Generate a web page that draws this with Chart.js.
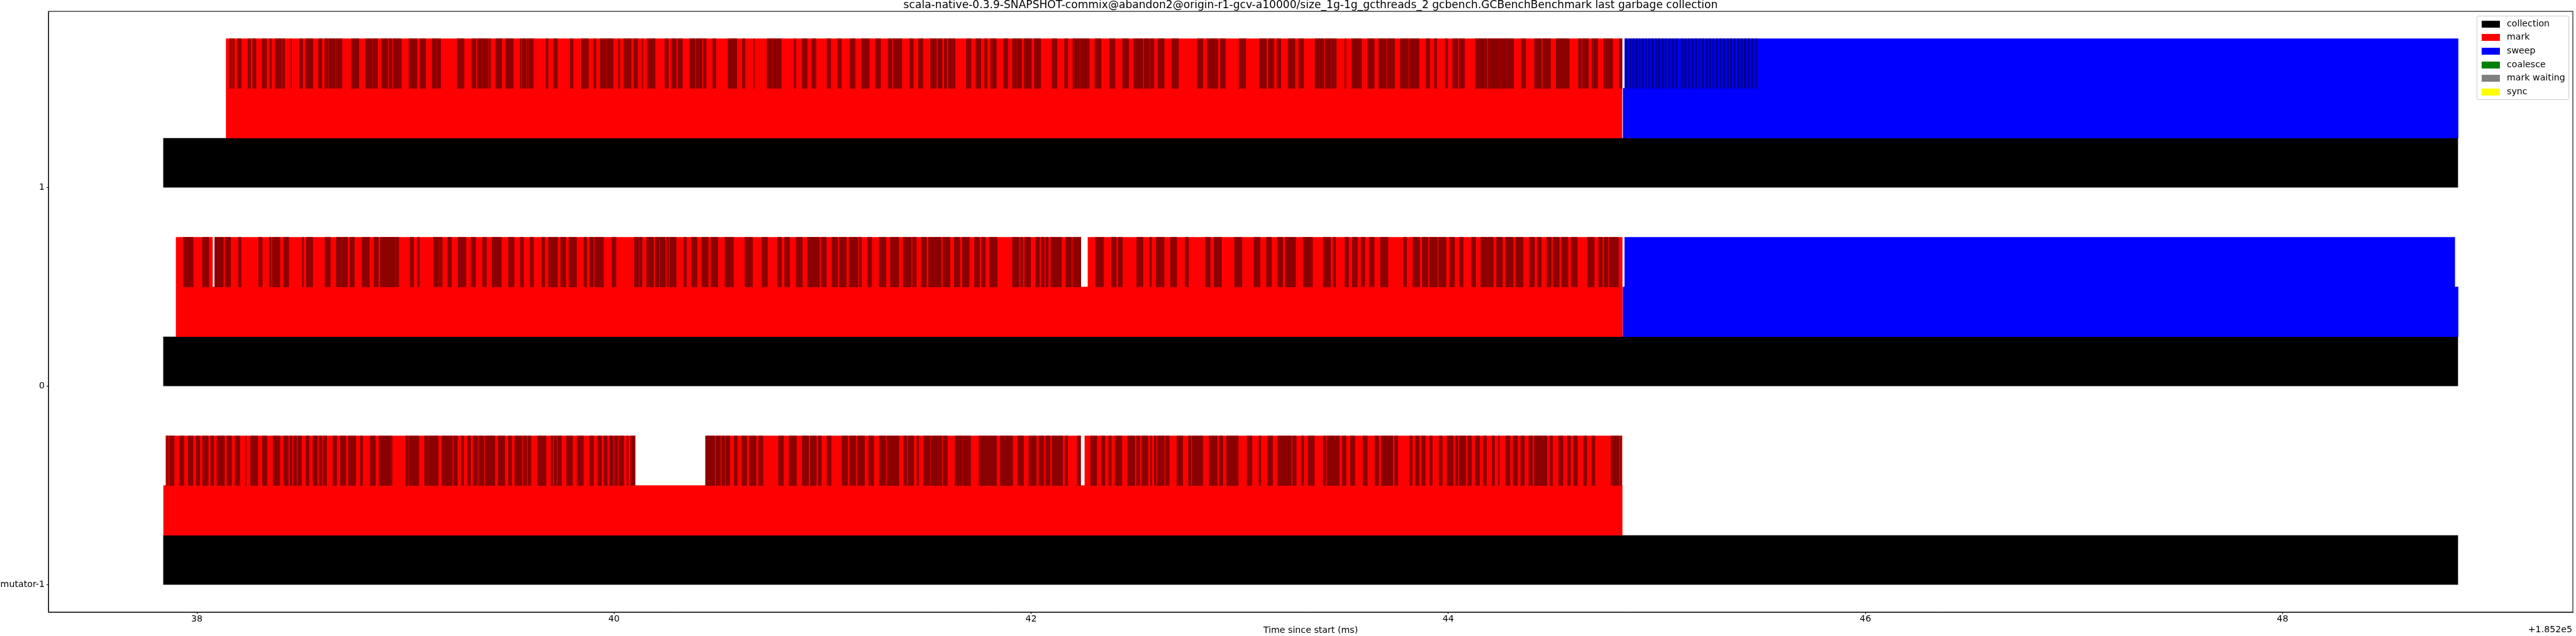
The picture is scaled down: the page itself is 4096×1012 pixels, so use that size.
<!DOCTYPE html>
<html><head><meta charset="utf-8">
<script src="https://cdn.jsdelivr.net/npm/chart.js@4/dist/chart.umd.min.js"></script>
<style>
html,body{margin:0;padding:0;background:#fff;}
#wrap{position:relative;width:4096px;height:1012px;overflow:hidden;}
canvas{display:block;}
.txt{position:absolute;font-family:"DejaVu Sans";color:#000;white-space:nowrap;font-size:14.2px;line-height:17px;}
#legend{position:absolute;left:3938px;top:25px;width:147px;height:134px;border:1px solid #cccccc;border-radius:3px;background:rgba(255,255,255,0.8);box-sizing:border-box;}
.sw{position:absolute;left:7px;width:29px;height:11px;}
.lt{position:absolute;left:47px;font-family:"DejaVu Sans";font-size:14.2px;line-height:17px;white-space:nowrap;color:#000;}
</style></head>
<body>
<div id="wrap">
<canvas id="c" width="4096" height="1012"></canvas>
<div id="legend"></div>
<div class="txt" id="offset" style="right:6px;top:993px;"></div>
</div>
<script>
// ---- data (ms, relative to offset +1.852e5) ----
const titleText = 'scala-native-0.3.9-SNAPSHOT-commix@abandon2@origin-r1-gcv-a10000/size_1g-1g_gcthreads_2 gcbench.GCBenchBenchmark last garbage collection';
const xAxisTitle = 'Time since start (ms)';
const offsetLabel = '+1.852e5';
const xTicks = [38, 40, 42, 44, 46, 48];
const threadValues = [-1, 0, 1];
const threadLabels = ['mutator-1', '0', '1'];
const legendLabels = ['collection', 'mark', 'sweep', 'coalesce', 'mark waiting', 'sync'];

// per thread, order: mutator-1, 0, 1
const collectionSpans = [[37.838, 48.842], [37.838, 48.842], [37.838, 48.842]];
const markSpans = [[37.840, 44.834], [37.900, 44.835], [38.140, 44.833]];
const sweepSpans = [null, [44.838, 48.842], [44.838, 48.842]];

const markBatchBaseM1 = [[37.851, 40.101], [40.439, 42.237], [42.257, 44.833]];
const markBatchBase0 = [[37.900, 38.075], [38.085, 42.238], [42.272, 44.834]];
const markBatchBase1 = [[38.140, 44.833]];

const markBatchDark1 = [[38.157,38.166],[38.171,38.179],[38.195,38.213],[38.245,38.253],[38.256,38.258],[38.267,38.283],[38.313,38.329],[38.331,38.334],[38.350,38.357],[38.375,38.405],[38.410,38.421],[38.451,38.454],[38.492,38.507],[38.522,38.556],[38.583,38.599],[38.613,38.628],[38.632,38.664],[38.668,38.673],[38.675,38.696],
[38.740,38.777],[38.809,38.841],[38.844,38.867],[38.885,38.916],[38.921,38.934],[38.940,38.980],[39.016,39.055],[39.070,39.097],[39.128,39.145],[39.148,39.169],[39.248,39.281],[39.318,39.338],[39.345,39.366],[39.369,39.396],[39.400,39.408],[39.433,39.462],[39.481,39.517],[39.550,39.554],[39.559,39.577],[39.581,39.589],[39.592,39.613],[39.674,39.684],[39.710,39.728],[39.789,39.804],[39.843,39.877],[39.902,39.913],[39.934,39.962],[39.965,39.996],[40.020,40.028],[40.047,40.059],[40.062,40.082],[40.095,40.114],[40.134,40.138],[40.159,40.197],
[40.244,40.261],[40.276,40.298],[40.306,40.328],[40.364,40.389],[40.394,40.421],[40.427,40.442],[40.473,40.488],[40.546,40.589],[40.615,40.628],[40.669,40.673],[40.733,40.758],[40.761,40.802],[40.863,40.872],[40.902,40.926],[40.948,40.968],[41.021,41.039],[41.072,41.090],[41.132,41.156],[41.186,41.224],[41.254,41.278],[41.314,41.331],[41.337,41.380],[41.417,41.435],[41.459,41.481],[41.517,41.546],[41.553,41.573],[41.583,41.595],[41.603,41.635],[41.689,41.712],[41.735,41.759],[41.777,41.788],[41.806,41.833],[41.868,41.889],[41.910,41.930],[41.933,41.954],[41.966,42.001],[42.015,42.046],[42.100,42.124],[42.160,42.176],[42.200,42.234],[42.237,42.278],[42.305,42.335],[42.375,42.402],[42.438,42.468],[42.491,42.536],
[42.542,42.566],[42.571,42.589],[42.608,42.638],[42.674,42.707],[42.796,42.823],[42.844,42.895],[42.907,42.931],[42.996,43.029],[43.095,43.128],[43.137,43.164],[43.179,43.197],[43.232,43.265],[43.283,43.306],[43.361,43.403],[43.409,43.436],[43.439,43.463],[43.504,43.510],[43.537,43.585],[43.612,43.645],[43.666,43.702],[43.706,43.743],[43.770,43.809],[43.814,43.860],[43.894,43.911],[43.933,43.945],[43.985,43.997],[44.021,44.045],[44.051,44.078],[44.129,44.186],[44.192,44.251],[44.254,44.314],[44.350,44.371],[44.413,44.446],[44.452,44.490],[44.517,44.580],[44.624,44.638],[44.643,44.672],[44.689,44.693],[44.696,44.717],[44.745,44.751],[44.754,44.788],[44.819,44.833]];

const markBatchDark0 = [[37.935,37.982],[38.027,38.057],[38.085,38.127],[38.135,38.162],[38.199,38.212],[38.296,38.313],[38.347,38.356],[38.362,38.398],[38.416,38.440],[38.505,38.511],[38.525,38.555],[38.614,38.640],[38.668,38.692],[38.695,38.722],[38.734,38.755],[38.792,38.827],[38.849,38.870],[38.879,38.912],[38.913,38.949],[38.952,38.968],[39.022,39.039],[39.057,39.067],[39.134,39.158],[39.161,39.176],[39.203,39.221],[39.252,39.290],[39.314,39.336],[39.370,39.388],[39.415,39.460],[39.494,39.521],[39.550,39.566],[39.597,39.614],[39.653,39.668],[39.686,39.729],[39.744,39.769],[39.784,39.820],[39.856,39.869],[39.884,39.901],[39.907,39.950],[39.990,40.010],[40.097,40.118],[40.122,40.135],[40.156,40.189],
[40.197,40.216],[40.220,40.246],[40.253,40.262],[40.267,40.298],[40.335,40.347],[40.371,40.398],[40.421,40.452],[40.465,40.498],[40.531,40.573],[40.627,40.664],[40.709,40.736],[40.784,40.803],[40.818,40.842],[40.873,40.903],[40.927,40.985],[40.993,41.018],[41.045,41.072],[41.080,41.114],[41.127,41.168],[41.174,41.186],[41.216,41.236],[41.271,41.304],[41.325,41.365],[41.386,41.425],[41.431,41.449],[41.473,41.498],[41.508,41.568],[41.576,41.611],[41.631,41.658],[41.670,41.703],[41.728,41.752],[41.761,41.780],[41.800,41.837],[41.910,41.942],[41.949,41.960],[41.969,41.997],[42.022,42.040],[42.048,42.063],[42.070,42.082],[42.094,42.146],[42.166,42.193],[42.199,42.238],[42.308,42.348],[42.385,42.408],[42.417,42.438],
[42.506,42.536],[42.569,42.577],[42.599,42.638],[42.668,42.698],[42.738,42.754],[42.835,42.859],[42.877,42.913],[42.975,43.011],[43.068,43.098],[43.128,43.152],[43.182,43.206],[43.218,43.268],[43.304,43.349],[43.400,43.436],[43.448,43.460],[43.504,43.522],[43.540,43.564],[43.582,43.600],[43.621,43.645],[43.675,43.711],[43.785,43.800],[43.830,43.863],[43.875,43.903],[43.911,43.947],[43.953,43.989],[44.006,44.030],[44.054,44.072],[44.111,44.132],[44.156,44.186],[44.189,44.216],[44.231,44.260],[44.275,44.311],[44.323,44.359],[44.389,44.413],[44.428,44.446],[44.473,44.494],[44.502,44.532],[44.544,44.574],[44.589,44.619],[44.667,44.700],[44.721,44.739],[44.747,44.765],[44.771,44.816]];

const markBatchDarkM1 = [[37.854,37.863],[37.869,37.891],[37.917,37.938],[37.958,37.981],[37.997,38.014],[38.027,38.054],[38.066,38.081],[38.096,38.132],[38.144,38.166],[38.183,38.206],[38.233,38.236],[38.257,38.292],[38.314,38.336],[38.365,38.398],[38.416,38.438],[38.446,38.456],[38.463,38.478],[38.484,38.502],[38.523,38.538],[38.556,38.577],[38.585,38.598],[38.604,38.622],[38.652,38.670],[38.688,38.714],[38.726,38.762],[38.783,38.795],[38.831,38.856],[38.873,38.936],[39.001,39.013],[39.016,39.064],[39.091,39.106],[39.109,39.157],[39.175,39.225],[39.231,39.249],[39.267,39.279],[39.297,39.312],[39.324,39.345],[39.351,39.375],[39.381,39.429],[39.444,39.476],[39.494,39.509],[39.524,39.557],[39.563,39.581],[39.587,39.602],[39.632,39.674],[39.698,39.707],[39.713,39.725],[39.730,39.748],[39.772,39.801],[39.823,39.853],[39.883,39.902],[39.922,39.940],[39.952,39.967],[39.978,39.996],[40.002,40.017],[40.023,40.047],[40.062,40.068],[40.080,40.101],
[40.439,40.483],[40.489,40.510],[40.516,40.531],[40.536,40.555],[40.576,40.591],[40.612,40.636],[40.648,40.681],[40.693,40.714],[40.788,40.812],[40.839,40.875],[40.902,40.933],[40.941,40.970],[40.979,40.994],[41.021,41.041],[41.093,41.120],[41.129,41.160],[41.168,41.201],[41.221,41.245],[41.272,41.302],[41.308,41.366],[41.389,41.404],[41.410,41.437],[41.452,41.461],[41.484,41.516],[41.520,41.571],[41.577,41.598],[41.634,41.670],[41.673,41.710],[41.750,41.834],[41.852,41.912],[41.936,41.964],[41.989,42.025],[42.037,42.061],[42.070,42.091],[42.100,42.151],[42.163,42.175],[42.220,42.237],
[42.285,42.315],[42.336,42.354],[42.372,42.384],[42.402,42.435],[42.462,42.497],
[42.506,42.521],[42.530,42.560],[42.572,42.578],[42.590,42.599],[42.605,42.638],[42.644,42.662],[42.698,42.727],[42.754,42.766],[42.772,42.823],[42.853,42.892],[42.901,42.919],[42.937,42.993],[43.035,43.059],[43.092,43.101],[43.134,43.158],[43.182,43.247],[43.253,43.271],[43.295,43.307],[43.328,43.358],[43.400,43.412],[43.418,43.477],[43.492,43.510],[43.531,43.552],[43.591,43.612],[43.648,43.666],[43.678,43.734],[43.743,43.758],[43.815,43.827],[43.842,43.860],[43.872,43.890],[43.911,43.923],[43.956,43.971],[43.994,44.024],[44.036,44.045],[44.051,44.084],[44.093,44.111],[44.129,44.150],[44.168,44.183],[44.210,44.222],[44.240,44.245],[44.275,44.296],[44.311,44.332],[44.347,44.365],[44.386,44.404],[44.413,44.473],[44.488,44.500],[44.529,44.550],[44.571,44.586],[44.601,44.619],[44.649,44.664],[44.688,44.703],[44.780,44.819],[44.825,44.831]];

const sweepBatchBase0 = [[44.846, 48.826]];
const sweepBatchBase1 = [[44.846, 48.842]];
const sweepBatchDark0 = [];
const sweepBatchDark1 = [[44.850,44.858],[44.868,44.876],[44.884,44.891],[44.899,44.906],[44.914,44.921],[44.929,44.937],[44.944,44.951],[44.960,44.967],[44.975,44.983],[44.991,44.999],[45.006,45.015],[45.024,45.032],[45.039,45.047],[45.057,45.064],[45.072,45.081],[45.090,45.099],[45.116,45.125],[45.133,45.141],[45.150,45.158],[45.167,45.174],[45.183,45.192],[45.201,45.208],[45.217,45.225],[45.235,45.243],[45.250,45.259],[45.268,45.275],[45.284,45.292],[45.301,45.310],[45.318,45.326],[45.336,45.344],[45.352,45.360],[45.369,45.377],[45.386,45.395],[45.403,45.411],[45.419,45.428],[45.437,45.445],[45.454,45.462],[45.471,45.479]];

// ---- axis limits (matplotlib-style 5% margins) ----
const xMin = 37.288, xMax = 49.392;
const yMin = -1.1375, yMax = 1.8875;

// ---- styling ----
const FONT = 'DejaVu Sans';
const C = {collection:'#000000', mark:'#ff0000', sweep:'#0000ff', coalesce:'#008000', markWaiting:'#808080', sync:'#ffff00', darkred:'#8b0000', darkblue:'#00008b'};
const LAYER = {collection: 0.125, phase: 0.375, batch: 0.625};

function toBars(spans, yv, layer) {
  const out = [];
  spans.forEach(s => { if (s) out.push({x: [s[0], s[1]], y: yv + layer}); });
  return out;
}
function ds(label, color, data) {
  return {label, data, backgroundColor: color, borderWidth: 0, borderSkipped: false, grouped: false, barThickness: 10};
}

const collData = [], markData = [], sweepData = [];
threadValues.forEach((v, i) => {
  collData.push(...toBars([collectionSpans[i]], v, LAYER.collection));
  markData.push(...toBars([markSpans[i]], v, LAYER.phase));
  sweepData.push(...toBars([sweepSpans[i]], v, LAYER.phase));
});

const datasets = [
  ds('collection', C.collection, collData),
  ds('mark', C.mark, markData),
  ds('sweep', C.sweep, sweepData),
  ds('mark batch', C.mark, [...toBars(markBatchBaseM1, -1, LAYER.batch), ...toBars(markBatchBase0, 0, LAYER.batch), ...toBars(markBatchBase1, 1, LAYER.batch)]),
  ds('mark batch alt', C.darkred, [...toBars(markBatchDarkM1, -1, LAYER.batch), ...toBars(markBatchDark0, 0, LAYER.batch), ...toBars(markBatchDark1, 1, LAYER.batch)]),
  ds('sweep batch', C.sweep, [...toBars(sweepBatchBase0, 0, LAYER.batch), ...toBars(sweepBatchBase1, 1, LAYER.batch)]),
  ds('sweep batch alt', C.darkblue, [...toBars(sweepBatchDark0, 0, LAYER.batch), ...toBars(sweepBatchDark1, 1, LAYER.batch)])
];
datasets[0].borderWidth = 0.6; datasets[0].borderColor = '#c8c8c8';
// later datasets are drawn above earlier ones
datasets.forEach((d, i) => { d.order = datasets.length - i; });

const framePlugin = {
  id: 'frame',
  afterDatasetsDraw(chart) {
    const a = chart.chartArea, ctx = chart.ctx;
    ctx.save(); ctx.strokeStyle = '#000'; ctx.lineWidth = 1.1;
    ctx.strokeRect(a.left, a.top, a.right - a.left, a.bottom - a.top);
    ctx.restore();
  }
};

const tickFont = {family: FONT, size: 14.2};
const chart = new Chart(document.getElementById('c'), {
  type: 'bar',
  data: {datasets},
  options: {
    indexAxis: 'y', responsive: false, animation: false, maintainAspectRatio: false,
    layout: {padding: {top: 0, right: 5, bottom: 0, left: 0}},
    plugins: {
      legend: {display: false}, tooltip: {enabled: false},
      title: {display: true, text: titleText, fullSize: false, color: '#000',
        font: {family: FONT, size: 17.1, weight: 'normal', lineHeight: 1.0}, padding: {top: 0, bottom: 1}}
    },
    scales: {
      x: {
        type: 'linear', position: 'bottom', min: xMin, max: xMax, offset: false,
        afterBuildTicks: s => { s.ticks = xTicks.map(v => ({value: v})); },
        afterFit: s => { s.height = 38; },
        ticks: {font: tickFont, color: '#000', padding: 0, maxRotation: 0, autoSkip: false, callback: v => String(v)},
        grid: {offset: false, drawOnChartArea: false, drawTicks: true, tickLength: 3, color: '#000', lineWidth: 1},
        border: {display: true, color: '#000', width: 1},
        title: {display: true, text: xAxisTitle, color: '#000', font: {family: FONT, size: 14.2}, padding: {top: 0, bottom: 0}}
      },
      y: {
        type: 'linear', position: 'left', min: yMin, max: yMax, offset: false,
        afterBuildTicks: s => { s.ticks = threadValues.map(v => ({value: v})); },
        afterFit: s => { s.width = 77; },
        ticks: {font: tickFont, color: '#000', padding: 3, autoSkip: false, callback: v => threadLabels[threadValues.indexOf(v)]},
        grid: {offset: false, drawOnChartArea: false, drawTicks: true, tickLength: 3, color: '#000', lineWidth: 1},
        border: {display: true, color: '#000', width: 1}
      }
    }
  },
  plugins: [framePlugin]
});

const ys = chart.scales.y;
const thick = Math.abs(ys.getPixelForValue(0) - ys.getPixelForValue(0.25));
chart.data.datasets.forEach(d => { d.barThickness = thick; });
chart.update('none');

// legend (matplotlib-style, top right inside axes)
const legendColors = [C.collection, C.mark, C.sweep, C.coalesce, C.markWaiting, C.sync];
const lg = document.getElementById('legend');
const rowY = [12.3, 33.5, 55.3, 77.0, 98.8, 120.6];
legendLabels.forEach((lab, i) => {
  const sw = document.createElement('div'); sw.className = 'sw';
  sw.style.top = (rowY[i] - 5.5) + 'px'; sw.style.background = legendColors[i];
  lg.appendChild(sw);
  const t = document.createElement('div'); t.className = 'lt';
  t.style.top = (rowY[i] - 9.5) + 'px'; t.textContent = lab;
  lg.appendChild(t);
});
document.getElementById('offset').textContent = offsetLabel;
</script>
</body></html>
